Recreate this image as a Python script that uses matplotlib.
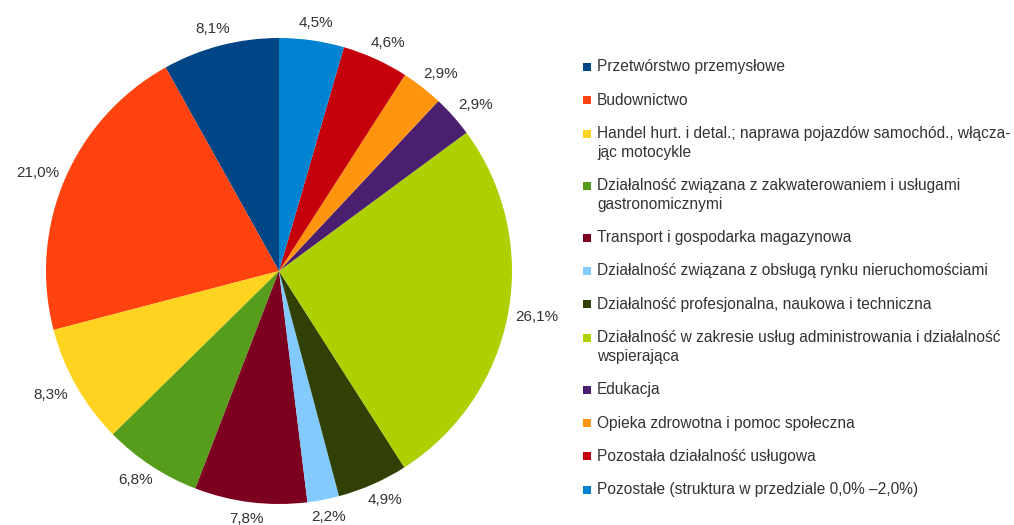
import numpy as np
import matplotlib
matplotlib.use("Agg")
import matplotlib.pyplot as plt
from matplotlib.patches import Rectangle

plt.rcParams['font.family'] = ['Liberation Sans', 'DejaVu Sans']

# sectors in legend order (pie runs counter-clockwise from 12 o'clock)
labels = [
    "Przetwórstwo przemysłowe",
    "Budownictwo",
    "Handel hurt. i detal.; naprawa pojazdów samochód., włącza-\njąc motocykle",
    "Działalność związana z zakwaterowaniem i usługami\ngastronomicznymi",
    "Transport i gospodarka magazynowa",
    "Działalność związana z obsługą rynku nieruchomościami",
    "Działalność profesjonalna, naukowa i techniczna",
    "Działalność w zakresie usług administrowania i działalność\nwspierająca",
    "Edukacja",
    "Opieka zdrowotna i pomoc społeczna",
    "Pozostała działalność usługowa",
    "Pozostałe (struktura w przedziale 0,0% –2,0%)",
]
shares = [8.1, 21.0, 8.3, 6.8, 7.8, 2.2, 4.9, 26.1, 2.9, 2.9, 4.6, 4.5]
colors = ["#004586", "#ff420e", "#ffd320", "#579d1c", "#7e0021", "#83caff",
          "#314004", "#aecf00", "#4b1f6f", "#ff950e", "#c5000b", "#0084d1"]

W, H = 1014, 525
fig = plt.figure(figsize=(W / 100, H / 100), dpi=100)
txt_col = "#333333"

# pie: centre (279, 271) px, radius 233 px
cx, cy, R = 279, 271, 233
ax = fig.add_axes([(cx - R) / W, (H - cy - R) / H, 2 * R / W, 2 * R / H])
wedges, _ = ax.pie(shares, colors=colors, startangle=90, counterclock=True,
                   radius=1, wedgeprops=dict(linewidth=0))
ax.set_xlim(-1, 1); ax.set_ylim(-1, 1); ax.set_aspect('equal'); ax.axis('off')

# percentage labels just outside the rim, pushed out by half the text box
for w, v in zip(wedges, shares):
    a = np.deg2rad((w.theta1 + w.theta2) / 2)
    c, s = np.cos(a), np.sin(a)
    ax.annotate(f"{v:.1f}%".replace('.', ','), xy=(1.04 * c, 1.04 * s),
                xytext=(c * 20, s * 8), textcoords='offset pixels',
                ha='center', va='center', fontsize=11, color=txt_col,
                annotation_clip=False)

# legend, drawn by hand so the marker sits on the first line
lg = fig.add_axes([0, 0, 1, 1])
lg.set_xlim(0, W); lg.set_ylim(H, 0); lg.axis('off')
y = 67
for lab, col in zip(labels, colors):
    lg.add_patch(Rectangle((583, y - 4), 8, 8, color=col, lw=0))
    lines = lab.split("\n")
    for i, ln in enumerate(lines):
        lg.text(597, y + i * 18.5, ln, ha='left', va='center', fontsize=11.2, color=txt_col)
    y += 33.4 + 18.5 * (len(lines) - 1)

fig.savefig("out.png", dpi=100, facecolor="white")
